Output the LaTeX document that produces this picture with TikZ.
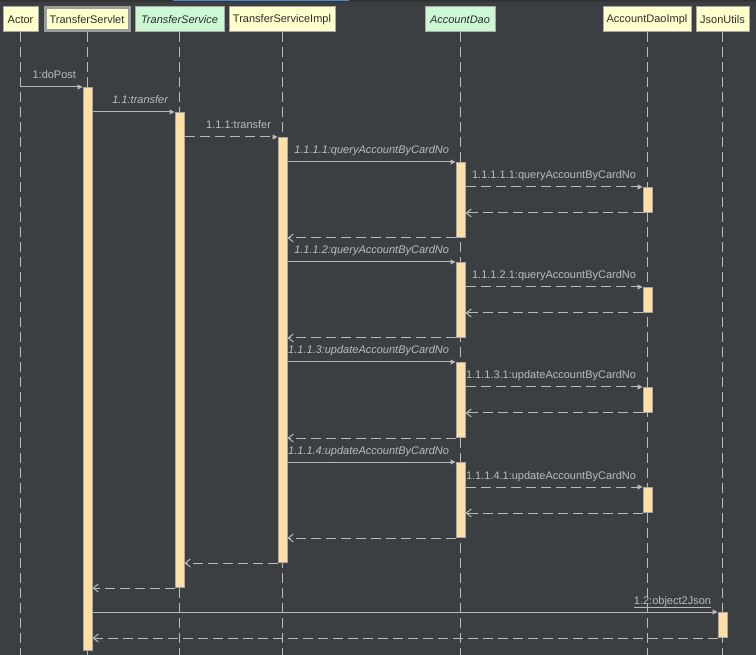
\documentclass[tikz,border=0pt]{standalone}
\usepackage{fontspec}
\setmainfont{Liberation Sans}
\usetikzlibrary{arrows.meta}
\definecolor{bg}{HTML}{3C3F41}
\definecolor{bgtop}{HTML}{313335}
\definecolor{ln}{HTML}{BBBBBB}
\definecolor{yb}{HTML}{FFFFCC}
\definecolor{gb}{HTML}{CCF8D4}
\definecolor{bd}{HTML}{A8A8A8}
\definecolor{bdthick}{HTML}{9C9C9C}
\definecolor{actc}{HTML}{FFDFA3}
\definecolor{txt}{HTML}{2E2E2E}
\definecolor{topbar}{HTML}{4A88C7}
\tikzset{
  hdr/.style={draw=bd, line width=1pt, minimum height=25pt, inner sep=0pt, text=txt, font=\fontsize{11}{13}\selectfont},
  ylw/.style={hdr, fill=yb},
  grn/.style={hdr, fill=gb, font=\fontsize{11}{13}\selectfont\itshape},
  life/.style={draw=ln, line width=1pt, dash pattern=on 10pt off 5pt},
  actbar/.style={draw=bd, fill=actc, line width=1pt, minimum width=9pt, inner sep=0pt, anchor=north},
  call/.style={draw=ln, line width=1pt, -{Triangle[length=5pt,width=5pt]}},
  callr/.style={call, dash pattern=on 10pt off 5pt},
  ret/.style={draw=ln, line width=1pt, dash pattern=on 10pt off 5pt, -{Straight Barb[length=5pt,width=8pt]}},
  lbl/.style={text=ln, anchor=base east, xshift=-6pt, yshift=8pt, inner sep=0pt, font=\fontsize{11}{13}\selectfont},
  lbli/.style={lbl, font=\fontsize{11}{13}\selectfont\itshape}
}
\begin{document}
\begin{tikzpicture}[x=1pt,y=-1pt]
\fill[bg] (0,0) rectangle (756,655);
\useasboundingbox (0,0) rectangle (756,655);
\fill[bgtop] (0,0) rectangle (756,2.5);
\fill[topbar] (173,0) rectangle (349,1.5);
% headers
\node[ylw, minimum width=35pt] (actor) at (20.5,19.5) {Actor};
\node[ylw, minimum width=84pt, minimum height=23pt, draw=bdthick, line width=3pt] (servlet) at (87,19.5) {TransferServlet};
\node[grn, minimum width=89pt] (service) at (179.5,19.5) {TransferService};
\node[ylw, minimum width=106pt] (impl) at (282,19.5) {TransferServiceImpl};
\node[grn, minimum width=70pt] (dao) at (460,19.5) {AccountDao};
\node[ylw, minimum width=88pt] (daoimpl) at (647,19.5) {AccountDaoImpl};
\node[ylw, minimum width=53pt] (json) at (722.5,19.5) {JsonUtils};
% lifelines
\coordinate (bot) at (0,655);
\foreach \n in {actor,servlet,service,impl,dao,daoimpl,json}{
  \draw[life] (\n.south) -- (\n.south |- bot);
}
% activation bars
\node[actbar, minimum height=563pt] (sv) at (87.5,87) {};
\node[actbar, minimum height=475pt] (ts) at (179.5,112) {};
\node[actbar, minimum height=425pt] (tsi) at (282.5,137) {};
\foreach \k in {1,2,3,4}{
  \node[actbar, minimum height=75pt] (ad\k) at (460.5,{62+100*\k}) {};
  \node[actbar, minimum height=25pt] (adi\k) at (647.5,{87+100*\k}) {};
}
\node[actbar, minimum height=25pt] (ju) at (722.5,612) {};
% messages
\draw[call] (actor.south |- sv.north) -- (sv.north west) node[lbl] {1:doPost};
\draw[call] (sv.east |- ts.north) -- (ts.north west) node[lbli] {1.1:transfer};
\draw[callr] (ts.east |- tsi.north) -- (tsi.north west) node[lbl] {1.1.1:transfer};
\foreach \k/\m in {1/query,2/query,3/update,4/update}{
  \draw[call] (tsi.east |- ad\k.north) -- (ad\k.north west) node[lbli] {1.1.1.\k:\m AccountByCardNo};
  \draw[callr] (ad\k.east |- adi\k.north) -- (adi\k.north west) node[lbl] {1.1.1.\k.1:\m AccountByCardNo};
  \draw[ret] (adi\k.south west) -- (ad\k.east |- adi\k.south);
  \draw[ret] (ad\k.south west) -- (tsi.east |- ad\k.south);
}
\draw[ret] (tsi.south west) -- (ts.east |- tsi.south);
\draw[ret] (ts.south west) -- (sv.east |- ts.south);
\draw[call] (sv.east |- ju.north) -- (ju.north west) node[lbl] {\underline{1.2:object2Json}};
\draw[ret] (ju.south west) -- (sv.east |- ju.south);
\end{tikzpicture}
\end{document}
